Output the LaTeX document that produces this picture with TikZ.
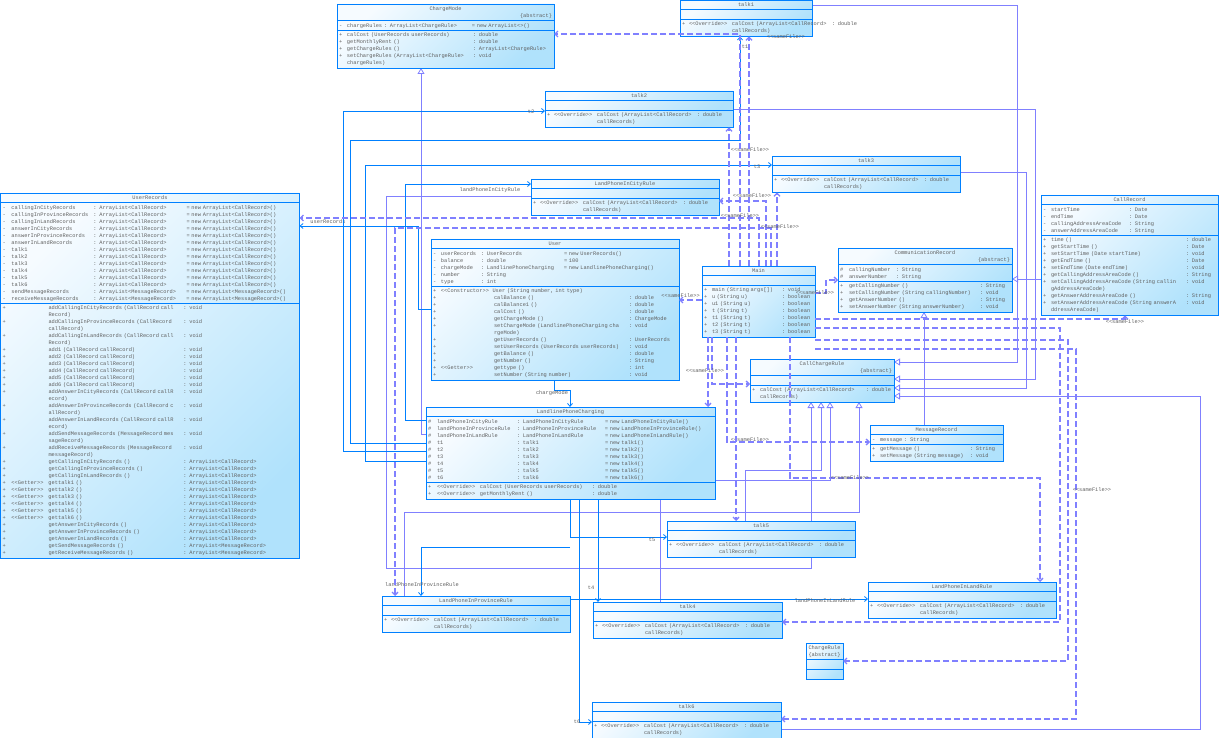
\documentclass[tikz,border=0pt]{standalone}
\usepackage{fontspec}
\setmonofont{Liberation Mono}
\usepackage{tikz}
\usetikzlibrary{shapes.multipart, arrows.meta, positioning}
\definecolor{umlblue}{RGB}{0, 128, 255}
\definecolor{umlviolet}{RGB}{128, 128, 255}
\definecolor{umltext}{RGB}{96, 96, 96}
\definecolor{umllight}{RGB}{246, 251, 255}
\definecolor{umldark}{RGB}{176, 226, 252}
\setlength{\tabcolsep}{0pt}
\newcommand{\classname}[1]{\makebox[\linewidth]{\strut #1}}
\newcommand{\abstractmark}{\par\makebox[\linewidth][r]{\strut\{abstract\}}}

\begin{document}
\begin{tikzpicture}[x=1pt, y=-1pt,
    umlclass/.style={rectangle split, rectangle split parts=3, anchor=north west,
        draw=umlblue, line width=0.8pt, top color=umllight, bottom color=umldark,
        shading angle=45, inner xsep=2pt, inner ysep=1pt, outer sep=0pt,
        font=\ttfamily\fontsize{5.33}{7}\selectfont, text=umltext},
    assoc/.style={draw=umlblue, line width=0.8pt, -{Straight Barb[length=3pt, width=5pt]}},
    inherit/.style={draw=umlviolet, line width=0.8pt, -{Triangle[open, length=6pt, width=7pt, fill=white]}},
    samefile/.style={draw=umlviolet, line width=1.3pt, dash pattern=on 6pt off 3pt, -{Straight Barb[length=3pt, width=6pt]}},
    role/.style={font=\ttfamily\fontsize{5.33}{7}\selectfont, text=umltext, inner sep=1pt}
    ]
    \fill[white] (0,0) rectangle (1219,738);
    \useasboundingbox (0,0) rectangle (1219,738);

    % generalizations (drawn first, behind the classes)
    \draw[inherit] (1041,279) -- (1012,279);
    \draw[inherit] (924,425) -- (924,312);
    \draw[inherit] (812,5) -| (1017,362) -- (894,362);
    \draw[inherit] (733,109) -| (1035,379) -- (894,379);
    \draw[inherit] (960,172) -| (1026,388) -- (894,388);
    \draw[inherit] (531,196) -| (386,568) -| (811,402);
    \draw[inherit] (745,521) -- (745,470) -| (821,402);
    \draw[inherit] (660,602) -- (660,480) -| (830,402);
    \draw[inherit] (404,596) |- (859,512) -- (859,402);
    \draw[inherit] (781,729) -| (1200,396) -- (894,396);
    \draw[inherit] (426,434) -| (421,68);

    % classes
    \node[umlclass, text width=213pt] (chargemode) at (337,4) {\classname{ChargeMode}\abstractmark
        \nodepart{second}\begin{tabular}{p{8pt}p{37pt}p{88pt}l}
            - & chargeRules & : ArrayList<ChargeRule> & = new ArrayList<>()
        \end{tabular}
        \nodepart{third}\begin{tabular}{p{8pt}p{126pt}l}
            + & calCost (UserRecords userRecords) & : double\\
            + & getMonthlyRent () & : double\\
            + & getChargeRules () & : ArrayList<ChargeRule>\\
            + & setChargeRules (ArrayList<ChargeRule> & : void\\
              & chargeRules) &
        \end{tabular}};

    \node[umlclass, text width=128pt] (talk1) at (680,0) {\classname{talk1}
        \nodepart{second}\strut
        \nodepart{third}\begin{tabular}{p{7pt}p{43pt}p{100pt}l}
            + & <{}<Override>{}> & calCost (ArrayList<CallRecord> & : double\\
              & & callRecords) &
        \end{tabular}};

    \node[umlclass, text width=184pt] (talk2) at (545,91) {\classname{talk2}
        \nodepart{second}\strut
        \nodepart{third}\begin{tabular}{p{7pt}p{43pt}p{100pt}l}
            + & <{}<Override>{}> & calCost (ArrayList<CallRecord> & : double\\
              & & callRecords) &
        \end{tabular}};

    \node[umlclass, text width=184pt] (talk3) at (772,156) {\classname{talk3}
        \nodepart{second}\strut
        \nodepart{third}\begin{tabular}{p{7pt}p{43pt}p{100pt}l}
            + & <{}<Override>{}> & calCost (ArrayList<CallRecord> & : double\\
              & & callRecords) &
        \end{tabular}};

    \node[umlclass, text width=184pt] (cityrule) at (531,179) {\classname{LandPhoneInCityRule}
        \nodepart{second}\strut
        \nodepart{third}\begin{tabular}{p{7pt}p{43pt}p{100pt}l}
            + & <{}<Override>{}> & calCost (ArrayList<CallRecord> & : double\\
              & & callRecords) &
        \end{tabular}};

    \node[umlclass, text width=295pt] (userrecords) at (0.5,193) {\classname{UserRecords}
        \nodepart{second}\begin{tabular}{p{9pt}p{82pt}p{93pt}l}
            - & callingInCityRecords & : ArrayList<CallRecord> & = new ArrayList<CallRecord>()\\
            - & callingInProvinceRecords & : ArrayList<CallRecord> & = new ArrayList<CallRecord>()\\
            - & callingInLandRecords & : ArrayList<CallRecord> & = new ArrayList<CallRecord>()\\
            - & answerInCityRecords & : ArrayList<CallRecord> & = new ArrayList<CallRecord>()\\
            - & answerInProvinceRecords & : ArrayList<CallRecord> & = new ArrayList<CallRecord>()\\
            - & answerInLandRecords & : ArrayList<CallRecord> & = new ArrayList<CallRecord>()\\
            - & talk1 & : ArrayList<CallRecord> & = new ArrayList<CallRecord>()\\
            - & talk2 & : ArrayList<CallRecord> & = new ArrayList<CallRecord>()\\
            - & talk3 & : ArrayList<CallRecord> & = new ArrayList<CallRecord>()\\
            - & talk4 & : ArrayList<CallRecord> & = new ArrayList<CallRecord>()\\
            - & talk5 & : ArrayList<CallRecord> & = new ArrayList<CallRecord>()\\
            - & talk6 & : ArrayList<CallRecord> & = new ArrayList<CallRecord>()\\
            - & sendMessageRecords & : ArrayList<MessageRecord> & = new ArrayList<MessageRecord>()\\
            - & receiveMessageRecords & : ArrayList<MessageRecord> & = new ArrayList<MessageRecord>()
        \end{tabular}
        \nodepart{third}\begin{tabular}{p{9pt}p{37pt}p{135pt}l}
            + & & addCallingInCityRecords (CallRecord call & : void\\
              & & Record) & \\
            + & & addCallingInProvinceRecords (CallRecord & : void\\
              & & callRecord) & \\
            + & & addCallingInLandRecords (CallRecord call & : void\\
              & & Record) & \\
            + & & add1 (CallRecord callRecord) & : void\\
            + & & add2 (CallRecord callRecord) & : void\\
            + & & add3 (CallRecord callRecord) & : void\\
            + & & add4 (CallRecord callRecord) & : void\\
            + & & add5 (CallRecord callRecord) & : void\\
            + & & add6 (CallRecord callRecord) & : void\\
            + & & addAnswerInCityRecords (CallRecord callR & : void\\
              & & ecord) & \\
            + & & addAnswerInProvinceRecords (CallRecord c & : void\\
              & & allRecord) & \\
            + & & addAnswerInLandRecords (CallRecord callR & : void\\
              & & ecord) & \\
            + & & addSendMessageRecords (MessageRecord mes & : void\\
              & & sageRecord) & \\
            + & & addReceiveMessageRecords (MessageRecord & : void\\
              & & messageRecord) & \\
            + & & getCallingInCityRecords () & : ArrayList<CallRecord>\\
            + & & getCallingInProvinceRecords () & : ArrayList<CallRecord>\\
            + & & getCallingInLandRecords () & : ArrayList<CallRecord>\\
            + & <{}<Getter>{}> & gettalk1 () & : ArrayList<CallRecord>\\
            + & <{}<Getter>{}> & gettalk2 () & : ArrayList<CallRecord>\\
            + & <{}<Getter>{}> & gettalk3 () & : ArrayList<CallRecord>\\
            + & <{}<Getter>{}> & gettalk4 () & : ArrayList<CallRecord>\\
            + & <{}<Getter>{}> & gettalk5 () & : ArrayList<CallRecord>\\
            + & <{}<Getter>{}> & gettalk6 () & : ArrayList<CallRecord>\\
            + & & getAnswerInCityRecords () & : ArrayList<CallRecord>\\
            + & & getAnswerInProvinceRecords () & : ArrayList<CallRecord>\\
            + & & getAnswerInLandRecords () & : ArrayList<CallRecord>\\
            + & & getSendMessageRecords () & : ArrayList<MessageRecord>\\
            + & & getReceiveMessageRecords () & : ArrayList<MessageRecord>
        \end{tabular}};

    \node[umlclass, text width=244pt] (user) at (431,239) {\classname{User}
        \nodepart{second}\begin{tabular}{p{8pt}p{40pt}p{83pt}l}
            - & userRecords & : UserRecords & = new UserRecords()\\
            - & balance & : double & = 100\\
            - & chargeMode & : LandlinePhoneCharging & = new LandlinePhoneCharging()\\
            - & number & : String & \\
            - & type & : int &
        \end{tabular}
        \nodepart{third}\begin{tabular}{p{8pt}p{53pt}p{135pt}l}
            + & \multicolumn{3}{l}{<{}<Constructor>{}>\ \ User (String number, int type)}\\
            + & & calBalance () & : double\\
            + & & calBalance1 () & : double\\
            + & & calCost () & : double\\
            + & & getChargeMode () & : ChargeMode\\
            + & & setChargeMode (LandlinePhoneCharging cha & : void\\
              & & rgeMode) & \\
            + & & getUserRecords () & : UserRecords\\
            + & & setUserRecords (UserRecords userRecords) & : void\\
            + & & getBalance () & : double\\
            + & & getNumber () & : String\\
            + & <{}<Getter>{}> & gettype () & : int\\
            + & & setNumber (String number) & : void
        \end{tabular}};

    \node[umlclass, text width=285pt] (landline) at (426,407) {\classname{LandlinePhoneCharging}
        \nodepart{second}\begin{tabular}{p{9pt}p{80pt}p{88pt}l}
            \# & landPhoneInCityRule & : LandPhoneInCityRule & = new LandPhoneInCityRule()\\
            \# & landPhoneInProvinceRule & : LandPhoneInProvinceRule & = new LandPhoneInProvinceRule()\\
            \# & landPhoneInLandRule & : LandPhoneInLandRule & = new LandPhoneInLandRule()\\
            \# & t1 & : talk1 & = new talk1()\\
            \# & t2 & : talk2 & = new talk2()\\
            \# & t3 & : talk3 & = new talk3()\\
            \# & t4 & : talk4 & = new talk4()\\
            \# & t5 & : talk5 & = new talk5()\\
            \# & t6 & : talk6 & = new talk6()
        \end{tabular}
        \nodepart{third}\begin{tabular}{p{9pt}p{43pt}p{112pt}l}
            + & <{}<Override>{}> & calCost (UserRecords userRecords) & : double\\
            + & <{}<Override>{}> & getMonthlyRent () & : double
        \end{tabular}};

    \node[umlclass, text width=109pt] (main) at (702,266) {\classname{Main}
        \nodepart{second}\strut
        \nodepart{third}\begin{tabular}{p{8pt}p{70pt}l}
            + & main (String args[]) & : void\\
            + & u (String u) & : boolean\\
            + & u1 (String u) & : boolean\\
            + & t (String t) & : boolean\\
            + & t1 (String t) & : boolean\\
            + & t2 (String t) & : boolean\\
            + & t3 (String t) & : boolean
        \end{tabular}};

    \node[umlclass, text width=170pt] (commrecord) at (838,248) {\classname{CommunicationRecord}\abstractmark
        \nodepart{second}\begin{tabular}{p{9pt}p{47pt}l}
            \# & callingNumber & : String\\
            \# & answerNumber & : String
        \end{tabular}
        \nodepart{third}\begin{tabular}{p{9pt}p{131pt}l}
            + & getCallingNumber () & : String\\
            + & setCallingNumber (String callingNumber) & : void\\
            + & getAnswerNumber () & : String\\
            + & setAnswerNumber (String answerNumber) & : void
        \end{tabular}};

    \node[umlclass, text width=173pt] (callrecord) at (1041,195) {\classname{CallRecord}
        \nodepart{second}\begin{tabular}{p{8pt}p{78pt}l}
            - & startTime & : Date\\
            - & endTime & : Date\\
            - & callingAddressAreaCode & : String\\
            - & answerAddressAreaCode & : String
        \end{tabular}
        \nodepart{third}\begin{tabular}{p{8pt}p{135pt}l}
            + & time () & : double\\
            + & getStartTime () & : Date\\
            + & setStartTime (Date startTime) & : void\\
            + & getEndTime () & : Date\\
            + & setEndTime (Date endTime) & : void\\
            + & getCallingAddressAreaCode () & : String\\
            + & setCallingAddressAreaCode (String callin & : void\\
              & gAddressAreaCode) & \\
            + & getAnswerAddressAreaCode () & : String\\
            + & setAnswerAddressAreaCode (String answerA & : void\\
              & ddressAreaCode) &
        \end{tabular}};

    \node[umlclass, text width=140pt] (callchargerule) at (750,359) {\classname{CallChargeRule}\abstractmark
        \nodepart{second}\strut
        \nodepart{third}\begin{tabular}{p{8pt}p{106pt}l}
            + & calCost (ArrayList<CallRecord> & : double\\
              & callRecords) &
        \end{tabular}};

    \node[umlclass, text width=129pt] (msgrecord) at (870,425) {\classname{MessageRecord}
        \nodepart{second}\begin{tabular}{p{8pt}l}
            - & message : String
        \end{tabular}
        \nodepart{third}\begin{tabular}{p{8pt}p{90pt}l}
            + & getMessage () & : String\\
            + & setMessage (String message) & : void
        \end{tabular}};

    \node[umlclass, text width=184pt] (talk5) at (667,521) {\classname{talk5}
        \nodepart{second}\strut
        \nodepart{third}\begin{tabular}{p{7pt}p{43pt}p{100pt}l}
            + & <{}<Override>{}> & calCost (ArrayList<CallRecord> & : double\\
              & & callRecords) &
        \end{tabular}};

    \node[umlclass, text width=184pt] (provrule) at (382,596) {\classname{LandPhoneInProvinceRule}
        \nodepart{second}\strut
        \nodepart{third}\begin{tabular}{p{7pt}p{43pt}p{100pt}l}
            + & <{}<Override>{}> & calCost (ArrayList<CallRecord> & : double\\
              & & callRecords) &
        \end{tabular}};

    \node[umlclass, text width=185pt] (talk4) at (593,602) {\classname{talk4}
        \nodepart{second}\strut
        \nodepart{third}\begin{tabular}{p{7pt}p{43pt}p{100pt}l}
            + & <{}<Override>{}> & calCost (ArrayList<CallRecord> & : double\\
              & & callRecords) &
        \end{tabular}};

    \node[umlclass, text width=184pt] (landrule) at (868,582) {\classname{LandPhoneInLandRule}
        \nodepart{second}\strut
        \nodepart{third}\begin{tabular}{p{7pt}p{43pt}p{100pt}l}
            + & <{}<Override>{}> & calCost (ArrayList<CallRecord> & : double\\
              & & callRecords) &
        \end{tabular}};

    \node[umlclass, text width=33pt] (chargerule) at (806,643) {\classname{ChargeRule}\par\classname{\{abstract\}}
        \nodepart{second}\strut
        \nodepart{third}\strut};

    \node[umlclass, text width=185pt] (talk6) at (592,702) {\classname{talk6}
        \nodepart{second}\strut
        \nodepart{third}\begin{tabular}{p{7pt}p{43pt}p{100pt}l}
            + & <{}<Override>{}> & calCost (ArrayList<CallRecord> & : double\\
              & & callRecords) &
        \end{tabular}};

    % associations
    \draw[assoc] (user.south -| 554,0) -- (554,390) -| (landline.north -| 570,0);
    \node[role] (lblmode) at (552,393) {chargeMode};
    \draw[assoc] (user.west |- 0,309) -| (418,226) -- (userrecords.east |- 0,226);
    \node[role] (lblrecords) at (328,222) {userRecords};
    \draw[assoc] (landline.west |- 0,420) -| (405,184) -- (cityrule.west |- 0,184);
    \node[role] (lblcity) at (490,190) {landPhoneInCityRule};
    \draw[assoc] (landline.west |- 0,451) -| (343,111) -- (talk2.west |- 0,111);
    \node[role] (lbltwo) at (531,112) {t2};
    \draw[assoc] (landline.west |- 0,461) -| (365,165) -- (talk3.west |- 0,165);
    \node[role] (lblthree) at (757,167) {t3};
    \draw[assoc] (landline.west |- 0,443) -| (350,140) -| (talk1.south -| 740,0);
    \node[role] (lblone) at (745,47) {t1};
    \draw[assoc] (landline.south -| 598,0) -- (talk4.north -| 598,0);
    \node[role] (lblfour) at (591,588) {t4};
    \draw[assoc] (landline.south -| 570,0) |- (talk5.west |- 0,537);
    \node[role] (lblfive) at (652,540) {t5};
    \draw[assoc] (landline.south -| 579,0) |- (talk6.west |- 0,722);
    \node[role] (lblsix) at (577,722) {t6};
    \draw[assoc] (570,547) -| (provrule.north -| 421,0);
    \node[role] (lblprov) at (422,585) {landPhoneInProvinceRule};
    \draw[assoc] (provrule.east |- 0,599) -- (landrule.west |- 0,599);
    \node[role] (lblland) at (825,601) {landPhoneInLandRule};

    % <<sameFile>> dependencies of Main
    \draw[samefile] (main.north -| 729,0) -- (talk2.south -| 729,0);
    \node[role] (sf2) at (750,150) {<{}<sameFile>{}>};
    \draw[samefile] (main.north -| 749,0) -- (talk1.south -| 749,0);
    \node[role] (sf1) at (786,37) {<{}<sameFile>{}>};
    \draw[samefile] (main.north -| 740,0) -- (740,34) -- (chargemode.east |- 0,34);
    \draw[samefile] (main.north -| 777,0) -- (talk3.south -| 777,0);
    \node[role] (sf3) at (752,196) {<{}<sameFile>{}>};
    \draw[samefile] (main.north -| 766,0) |- (cityrule.east |- 0,201);
    \draw[samefile] (main.north -| 759,0) |- (userrecords.east |- 0,218);
    \node[role] (sfrec) at (740,216) {<{}<sameFile>{}>};
    \draw[samefile] (main.north -| 771,0) |- (395,228) -- (provrule.north -| 395,0);
    \node[role] (sfprov) at (780,227) {<{}<sameFile>{}>};
    \draw[samefile] (main.west |- 0,300) -- (user.east |- 0,300);
    \node[role, anchor=east] (sfuser) at (701,296) {<{}<sameFile>{}>};
    \draw[samefile] (main.east |- 0,293) -| (826,280) -- (commrecord.west |- 0,280);
    \node[role] (sfcomm) at (815,293) {<{}<sameFile>{}>};
    \draw[samefile] (main.east |- 0,319) -| (callrecord.south -| 1125,0);
    \node[role] (sfcall) at (1125,322) {<{}<sameFile>{}>};
    \draw[samefile] (main.south -| 712,0) |- (callchargerule.west |- 0,384);
    \node[role] (sfccr) at (705,371) {<{}<sameFile>{}>};
    \draw[samefile] (main.south -| 727,0) |- (msgrecord.west |- 0,442);
    \node[role] (sfmsg) at (750,440) {<{}<sameFile>{}>};
    \draw[samefile] (main.south -| 736,0) -- (talk5.north -| 736,0);
    \draw[samefile] (main.south -| 708,0) -- (landline.north -| 708,0);
    \draw[samefile] (main.east |- 0,328) -| (1060,622) -- (talk4.east |- 0,622);
    \draw[samefile] (main.east |- 0,340) -| (1068,661) -- (chargerule.east |- 0,661);
    \draw[samefile] (main.east |- 0,349) -| (1076,719) -- (talk6.east |- 0,719);
    \node[role] (sfright) at (1092,490) {<{}<sameFile>{}>};
    \draw[samefile] (main.south -| 790,0) |- (1040,478) -- (landrule.north -| 1040,0);
    \node[role] (sfland) at (850,478) {<{}<sameFile>{}>};
\end{tikzpicture}
\end{document}
